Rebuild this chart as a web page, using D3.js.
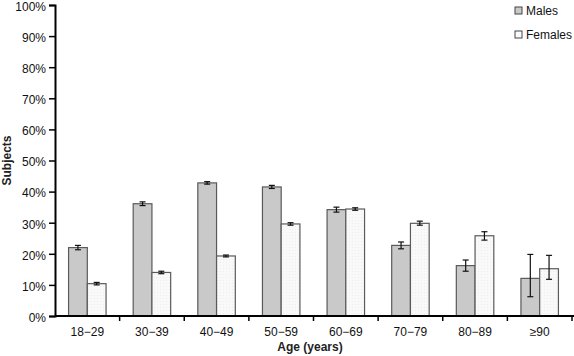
<!DOCTYPE html>
<html>
<head>
<meta charset="utf-8">
<script src="https://cdn.jsdelivr.net/npm/d3@7"></script>
<style>
  body { margin: 0; background: #fff; }
  svg { display: block; font-family: Arial, "Liberation Sans", sans-serif; }
</style>
</head>
<body>
<div id="chart"></div>
<script>
"use strict";

// data (percent of subjects)
var ageGroups = ["18\u221229", "30\u221239", "40\u221249", "50\u221259", "60\u221269", "70\u221279", "80\u221289", "\u226590"];
var males      = [22.0, 36.1, 42.8, 41.5, 34.2, 22.7, 16.2, 12.1];
var malesLow   = [21.3, 35.5, 42.4, 41.0, 33.4, 21.6, 14.4, 6.2];
var malesHigh  = [22.7, 36.7, 43.2, 42.0, 35.0, 23.8, 18.0, 19.8];
var females    = [10.4, 14.0, 19.3, 29.6, 34.4, 29.8, 25.8, 15.2];
var femalesLow = [10.0, 13.6, 19.0, 29.2, 34.0, 29.2, 24.4, 11.8];
var femalesHigh= [10.8, 14.4, 19.6, 30.0, 34.8, 30.5, 27.1, 19.5];
var yTicks = [0, 10, 20, 30, 40, 50, 60, 70, 80, 90, 100];
var seriesNames = ["Males", "Females"];

var width = 574, height = 356;
var margin = { top: 5, right: 2, bottom: 40, left: 55 };

var svg = d3.select("#chart").append("svg")
  .attr("width", width)
  .attr("height", height);

// faint texture for the light female bars
var defs = svg.append("defs");
var pat = defs.append("pattern")
  .attr("id", "dots")
  .attr("width", 3).attr("height", 3)
  .attr("patternUnits", "userSpaceOnUse");
pat.append("rect").attr("width", 3).attr("height", 3).attr("fill", "#f9f9f9");
pat.append("rect").attr("x", 1).attr("y", 1).attr("width", 1).attr("height", 1).attr("fill", "#eeeeee");

var x = d3.scaleBand()
  .domain(ageGroups)
  .range([margin.left, width - margin.right]);

var sub = d3.scaleBand()
  .domain(seriesNames)
  .range([0, x.bandwidth() * 0.58]);

var y = d3.scaleLinear()
  .domain([0, 100])
  .range([height - margin.bottom, margin.top]);

var rows = ageGroups.map(function (g, i) {
  return [
    { group: g, s: "Males", v: males[i], lo: malesLow[i], hi: malesHigh[i] },
    { group: g, s: "Females", v: females[i], lo: femalesLow[i], hi: femalesHigh[i] }
  ];
});
var flat = d3.merge(rows);

var offset = x.bandwidth() * 0.21;

// bars
svg.append("g").selectAll("rect")
  .data(flat)
  .enter()
  .append("rect")
  .attr("x", function (d) { return x(d.group) + offset + sub(d.s); })
  .attr("y", function (d) { return y(d.v); })
  .attr("width", sub.bandwidth())
  .attr("height", function (d) { return y(0) - y(d.v); })
  .attr("fill", function (d) { return d.s === "Males" ? "#c9c9c9" : "url(#dots)"; })
  .attr("stroke", "#5a5a5a")
  .attr("stroke-width", 1.2);

// error bars
var eb = svg.append("g").selectAll("g")
  .data(flat)
  .enter()
  .append("g")
  .attr("stroke", "#111")
  .attr("stroke-width", 1.2);
var cx = function (d) { return x(d.group) + offset + sub(d.s) + sub.bandwidth() / 2; };
eb.append("line")
  .attr("x1", cx).attr("x2", cx)
  .attr("y1", function (d) { return y(d.lo); })
  .attr("y2", function (d) { return y(d.hi); });
eb.append("line")
  .attr("x1", function (d) { return cx(d) - 3; }).attr("x2", function (d) { return cx(d) + 3; })
  .attr("y1", function (d) { return y(d.lo); })
  .attr("y2", function (d) { return y(d.lo); });
eb.append("line")
  .attr("x1", function (d) { return cx(d) - 3; }).attr("x2", function (d) { return cx(d) + 3; })
  .attr("y1", function (d) { return y(d.hi); })
  .attr("y2", function (d) { return y(d.hi); });

// y axis
var yAxis = d3.axisLeft(y)
  .tickValues(yTicks)
  .tickSize(6)
  .tickFormat(function (d) { return d + "%"; });
var gy = svg.append("g")
  .attr("transform", "translate(" + margin.left + ",0)")
  .call(yAxis);
gy.select(".domain").attr("stroke", "#000").attr("stroke-width", 2);
gy.selectAll(".tick line").attr("stroke", "#000").attr("stroke-width", 1.5);
gy.selectAll(".tick text")
  .attr("font-size", 12)
  .attr("font-family", "Arial, 'Liberation Sans', sans-serif")
  .attr("fill", "#111")
  .attr("x", -9)
  .attr("y", 1.5);

// x axis
var gx = svg.append("g")
  .attr("transform", "translate(0," + y(0) + ")");
gx.append("line")
  .attr("x1", margin.left).attr("x2", width)
  .attr("stroke", "#000").attr("stroke-width", 2);
gx.selectAll(".xt")
  .data(ageGroups)
  .enter()
  .append("line")
  .attr("x1", function (d) { return x(d) + x.bandwidth(); })
  .attr("x2", function (d) { return x(d) + x.bandwidth(); })
  .attr("y1", 0).attr("y2", 5)
  .attr("stroke", "#000").attr("stroke-width", 1.5);
gx.selectAll("text")
  .data(ageGroups)
  .enter()
  .append("text")
  .attr("x", function (d) { return x(d) + x.bandwidth() / 2; })
  .attr("y", 20)
  .attr("text-anchor", "middle")
  .attr("font-size", 12)
  .attr("fill", "#111")
  .text(function (d) { return d; });

// axis titles
svg.append("text")
  .attr("x", 310)
  .attr("y", 351)
  .attr("text-anchor", "middle")
  .attr("font-size", 12)
  .attr("font-weight", "bold")
  .attr("fill", "#222")
  .text("Age (years)");

svg.append("text")
  .attr("transform", "translate(11," + y(50) + ") rotate(-90)")
  .attr("text-anchor", "middle")
  .attr("font-size", 12)
  .attr("font-weight", "bold")
  .attr("fill", "#222")
  .text("Subjects");

// legend
var legend = svg.append("g").selectAll("g")
  .data(seriesNames)
  .enter()
  .append("g")
  .attr("transform", function (d, i) { return "translate(515," + (7 + i * 24) + ")"; });
legend.append("rect")
  .attr("width", 7).attr("height", 7)
  .attr("fill", function (d) { return d === "Males" ? "#c9c9c9" : "#fafafa"; })
  .attr("stroke", "#444");
legend.append("text")
  .attr("x", 11).attr("y", 8)
  .attr("font-size", 12)
  .attr("fill", "#111")
  .text(function (d) { return d; });
</script>
</body>
</html>
